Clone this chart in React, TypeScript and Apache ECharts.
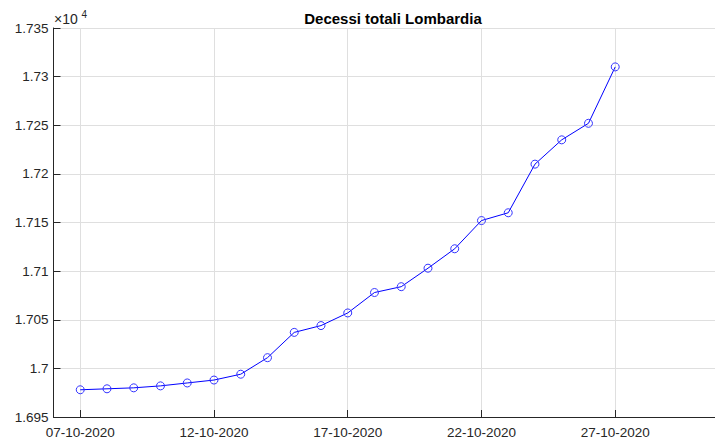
import React, { useEffect, useRef } from "react";
import * as echarts from "echarts";

const dates = [
  "07-10-2020", "08-10-2020", "09-10-2020", "10-10-2020", "11-10-2020",
  "12-10-2020", "13-10-2020", "14-10-2020", "15-10-2020", "16-10-2020",
  "17-10-2020", "18-10-2020", "19-10-2020", "20-10-2020", "21-10-2020",
  "22-10-2020", "23-10-2020", "24-10-2020", "25-10-2020", "26-10-2020",
  "27-10-2020",
];
const deaths = [
  16978, 16979, 16980, 16982, 16985, 16988, 16994, 17011, 17037, 17044,
  17057, 17078, 17084, 17103, 17123, 17152, 17160, 17210, 17235, 17252,
  17310,
];
const xTickIndices = [0, 5, 10, 15, 20];
const title = "Decessi totali Lombardia";

const FONT = "'Liberation Sans', Arial, Helvetica, sans-serif";
const AX = "#262626";

export default function App() {
  const ref = useRef<HTMLDivElement>(null);
  useEffect(() => {
    if (!ref.current) return;
    const chart = echarts.init(ref.current, undefined, { renderer: "svg" });
    const data = deaths.map((v, i) => [i, v]);
    chart.setOption({
      animation: false,
      backgroundColor: "#ffffff",
      textStyle: { fontFamily: FONT },
      title: {
        text: title,
        left: 388,
        textAlign: "center",
        top: 6,
        textStyle: { fontFamily: FONT, fontSize: 15, fontWeight: "bold", color: "#000" },
      },
      grid: { left: 53.5, top: 28, right: 0, bottom: 23, containLabel: false },
      xAxis: {
        type: "value",
        min: -1,
        max: 23.73,
        axisLine: { show: true, onZero: false, lineStyle: { color: AX, width: 1 } },
        axisTick: {
          show: true,
          inside: true,
          length: 7,
          customValues: xTickIndices,
          lineStyle: { color: AX },
        },
        axisLabel: {
          customValues: xTickIndices,
          margin: 8,
          fontSize: 13.5,
          color: AX,
          fontFamily: FONT,
          formatter: (v: number) => dates[Math.round(v)] ?? "",
        },
        splitLine: { show: true, lineStyle: { color: "#dfdfdf", width: 1 } },
      },
      yAxis: {
        type: "value",
        min: 16950,
        max: 17350,
        interval: 50,
        axisLine: { show: true, onZero: false, lineStyle: { color: AX, width: 1 } },
        axisTick: { show: true, inside: true, length: 7, lineStyle: { color: AX } },
        axisLabel: {
          margin: 5,
          fontSize: 13.5,
          color: AX,
          fontFamily: FONT,
          formatter: (v: number) => String(parseFloat((v / 10000).toFixed(4))),
        },
        splitLine: { show: true, lineStyle: { color: "#dfdfdf", width: 1 } },
      },
      graphic: [
        {
          type: "text",
          left: 54,
          top: 12,
          style: { text: "×10", fontSize: 14, fill: AX, fontFamily: FONT },
        },
        {
          type: "text",
          left: 81.5,
          top: 9,
          style: { text: "4", fontSize: 10, fill: AX, fontFamily: FONT },
        },
      ],
      series: [
        {
          type: "line",
          data,
          symbol: "circle",
          symbolSize: 8,
          showAllSymbol: true,
          lineStyle: { color: "#0000ff", width: 1 },
          itemStyle: { color: "transparent", borderColor: "#3333ff", borderWidth: 1 },
          emphasis: { disabled: true },
        },
      ],
    });
    return () => chart.dispose();
  }, []);
  return (
    <div
      ref={ref}
      style={{ position: "absolute", left: 0, top: 0, width: 715, height: 440 }}
    />
  );
}
